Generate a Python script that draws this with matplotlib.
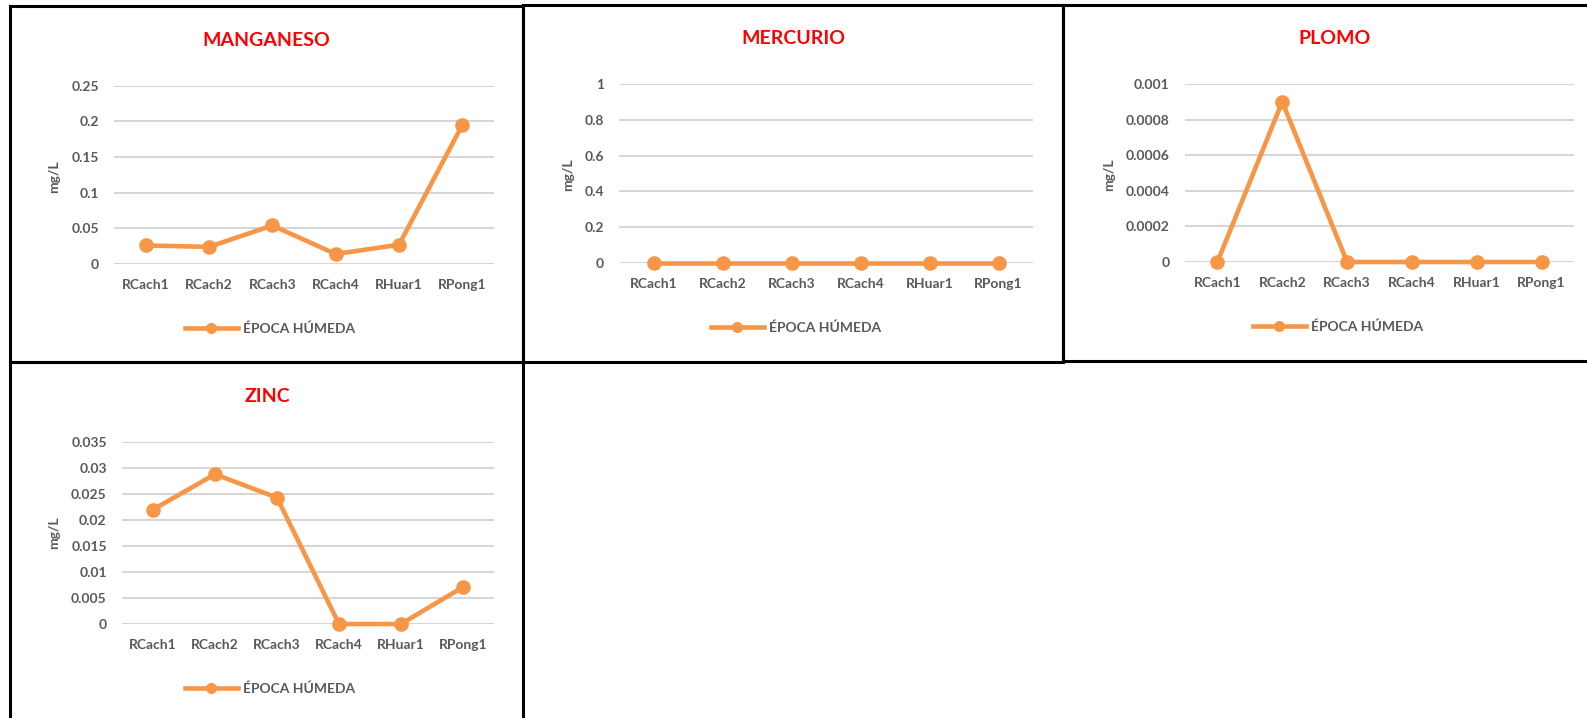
import matplotlib
matplotlib.use("Agg")
import matplotlib.pyplot as plt
from matplotlib.lines import Line2D

# --- data -------------------------------------------------------------
stations = ["RCach1", "RCach2", "RCach3", "RCach4", "RHuar1", "RPong1"]
series_name = "ÉPOCA HÚMEDA"

manganeso = [0.026, 0.024, 0.054, 0.014, 0.027, 0.195]
mercurio = [0, 0, 0, 0, 0, 0]
plomo = [0, 0.0009, 0, 0, 0, 0]
zinc = [0.022, 0.0288, 0.0243, 0, 0, 0.0071]

mn_ticks = [0, 0.05, 0.1, 0.15, 0.2, 0.25]
mn_labels = ["0", "0.05", "0.1", "0.15", "0.2", "0.25"]
hg_ticks = [0, 0.2, 0.4, 0.6, 0.8, 1]
hg_labels = ["0", "0.2", "0.4", "0.6", "0.8", "1"]
pb_ticks = [0, 0.0002, 0.0004, 0.0006, 0.0008, 0.001]
pb_labels = ["0", "0.0002", "0.0004", "0.0006", "0.0008", "0.001"]
zn_ticks = [0, 0.005, 0.01, 0.015, 0.02, 0.025, 0.03, 0.035]
zn_labels = ["0", "0.005", "0.01", "0.015", "0.02", "0.025", "0.03", "0.035"]

# --- style ------------------------------------------------------------
W, H = 1587, 718
DPI = 100
ORANGE = "#F79646"
GRAY = "#595959"
GRID = "#D6D6D6"
FONT = ["Lato", "DejaVu Sans"]

plt.rcParams["font.family"] = FONT
plt.rcParams["font.weight"] = "bold"

fig = plt.figure(figsize=(W / DPI, H / DPI), dpi=DPI)
fig.patch.set_facecolor("white")


def fx(px):
    return px / W


def fy(py):
    return 1 - py / H


def frame(x0, y0, x1, y1):
    """Black rectangular border around one chart, in pixel coordinates."""
    xs = [fx(x0), fx(x1), fx(x1), fx(x0), fx(x0)]
    ys = [fy(y0), fy(y0), fy(y1), fy(y1), fy(y0)]
    fig.add_artist(Line2D(xs, ys, color="black", lw=2.2,
                          transform=fig.transFigure, solid_joinstyle="miter"))


def panel(values, ticks, labels, title, plot_box, title_xy, ylabel_xy, legend_xy):
    x0, y0, x1, y1 = plot_box
    ax = fig.add_axes([fx(x0), fy(y1), fx(x1) - fx(x0), fy(y0) - fy(y1)])
    xs = list(range(len(stations)))
    ax.plot(xs, values, color=ORANGE, lw=3.3, marker="o", markersize=9.5,
            clip_on=False, zorder=3, solid_capstyle="round")
    ax.set_xlim(-0.5, len(stations) - 0.5)
    ax.set_ylim(ticks[0], ticks[-1])
    ax.set_yticks(ticks)
    ax.set_yticklabels(labels)
    ax.set_xticks(xs)
    ax.set_xticklabels(stations)
    for s in ax.spines.values():
        s.set_visible(False)
    ax.grid(axis="y", color=GRID, lw=1.5)
    ax.set_axisbelow(True)
    ax.tick_params(axis="both", length=0, labelsize=10, labelcolor=GRAY)
    ax.tick_params(axis="y", pad=11)
    ax.tick_params(axis="x", pad=11)
    for t in ax.get_xticklabels() + ax.get_yticklabels():
        t.set_fontweight("bold")

    fig.text(fx(title_xy[0]), fy(title_xy[1]), title, color="#FF0000",
             fontsize=14, fontweight="bold", ha="center", va="center")
    fig.text(fx(ylabel_xy[0]), fy(ylabel_xy[1]), "mg/L", color=GRAY,
             fontsize=10, fontweight="bold", rotation=90,
             ha="center", va="center")

    handle = Line2D([], [], color=ORANGE, lw=3.3, marker="o", markersize=7)
    ax.legend([handle], [series_name], loc="center",
              bbox_to_anchor=(fx(legend_xy[0]), fy(legend_xy[1])),
              bbox_transform=fig.transFigure, frameon=False,
              handlelength=3.8, handletextpad=0.4,
              prop={"family": FONT, "weight": "bold", "size": 10},
              labelcolor=GRAY)
    return ax


# chart borders
frame(9.5, 5.5, 523, 362)
frame(523, 5, 1063, 362)
frame(1063, 5, 1600, 361)
frame(9.5, 362, 523, 730)

panel(manganeso, mn_ticks, mn_labels, "MANGANESO",
      (114, 85.7, 494, 264), (266, 41), (54, 177), (270, 329))
panel(mercurio, hg_ticks, hg_labels, "MERCURIO",
      (619, 84, 1033, 263), (793, 39), (568, 175), (796, 328))
panel(plomo, pb_ticks, pb_labels, "PLOMO",
      (1185, 84, 1574, 262), (1334, 39), (1109, 175), (1338, 327))
panel(zinc, zn_ticks, zn_labels, "ZINC",
      (122, 442, 494, 624), (267, 397), (54, 533), (270, 689))

fig.savefig("out.png", dpi=DPI, facecolor="white")
